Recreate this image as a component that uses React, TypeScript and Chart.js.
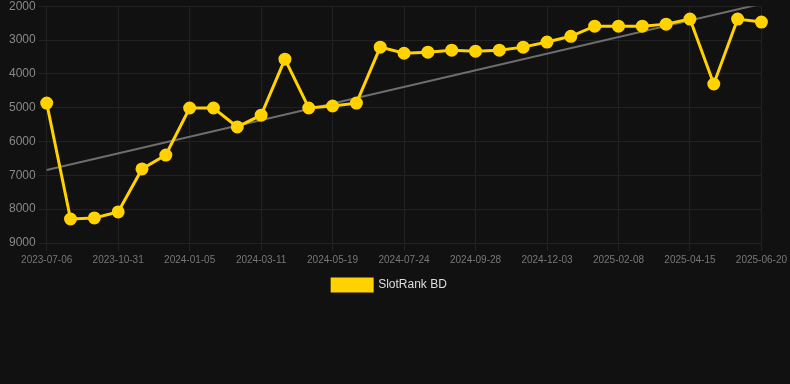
import React, { useEffect, useRef } from "react";
import { Chart, registerables } from "chart.js";

Chart.register(...registerables);

const dates: string[] = [
  "2023-07-06", "2023-08-14", "2023-09-22", "2023-10-31", "2023-11-22", "2023-12-14",
  "2024-01-05", "2024-01-27", "2024-02-18", "2024-03-11", "2024-04-03", "2024-04-26",
  "2024-05-19", "2024-06-10", "2024-07-02", "2024-07-24", "2024-08-15", "2024-09-06",
  "2024-09-28", "2024-10-20", "2024-11-11", "2024-12-03", "2024-12-25", "2025-01-17",
  "2025-02-08", "2025-03-02", "2025-03-24", "2025-04-15", "2025-05-07", "2025-05-29",
  "2025-06-20",
];

const rankValues: number[] = [
  4865, 8290, 8260, 8080, 6810, 6400,
  5010, 5010, 5570, 5220, 3565, 5010,
  4950, 4865, 3210, 3390, 3360, 3300,
  3330, 3300, 3210, 3060, 2890, 2590,
  2590, 2590, 2530, 2380, 4300, 2380,
  2470,
];

// trend line endpoints (first and last category)
const trendStart = 6840;
const trendEnd = 1930;

const yTicks: number[] = [2000, 3000, 4000, 5000, 6000, 7000, 8000, 9000];

export default function App() {
  const ref = useRef<HTMLCanvasElement | null>(null);

  useEffect(() => {
    document.body.style.background = "#111111";
    document.body.style.margin = "0";
    if (!ref.current) return;
    const trend = dates.map((_, i) =>
      i === 0 ? trendStart : i === dates.length - 1 ? trendEnd : null
    );
    const font = "'Liberation Sans', Arial, Helvetica, sans-serif";
    const chart = new Chart(ref.current, {
      type: "line",
      data: {
        labels: dates,
        datasets: [
          {
            label: "SlotRank BD",
            data: rankValues,
            borderColor: "#FFD200",
            backgroundColor: "#FFD200",
            borderWidth: 3,
            pointRadius: 5,
            pointHoverRadius: 5,
            pointBackgroundColor: "#FFD200",
            pointBorderColor: "#FFD200",
            tension: 0,
          },
          {
            label: "trend",
            data: trend,
            borderColor: "#6e6e6e",
            backgroundColor: "#6e6e6e",
            borderWidth: 2,
            pointRadius: 0,
            spanGaps: true,
            tension: 0,
          },
        ],
      },
      options: {
        animation: false,
        responsive: false,
        maintainAspectRatio: false,
        layout: { padding: { left: 6, top: 2, right: 17 } },
        plugins: {
          legend: {
            position: "bottom",
            labels: {
              color: "#dddddd",
              font: { size: 12, family: font },
              boxWidth: 40,
              boxHeight: 12,
              filter: (item) => item.text !== "trend",
            },
          },
          tooltip: { enabled: false },
        },
        scales: {
          x: {
            type: "category",
            offset: false,
            grid: {
              color: (ctx) => (ctx.index % 3 === 0 ? "#222222" : "rgba(0,0,0,0)"),
            },
            border: { color: "#222222" },
            ticks: {
              autoSkip: false,
              maxRotation: 0,
              color: "#777777",
              font: { size: 10, family: font },
              callback: (_v, i) => (i % 3 === 0 ? dates[i] : ""),
            },
          },
          y: {
            reverse: true,
            min: yTicks[0],
            max: yTicks[yTicks.length - 1],
            afterBuildTicks: (axis) => {
              axis.ticks = yTicks.map((v) => ({ value: v }));
            },
            grid: { color: "#222222" },
            border: { color: "#222222" },
            ticks: {
              color: "#888888",
              font: { size: 12, family: font },
              callback: (v) => String(v),
            },
          },
        },
      },
    });
    return () => chart.destroy();
  }, []);

  return (
    <div style={{ position: "absolute", left: 0, top: 0, width: 790, height: 384, background: "#111111", overflow: "hidden" }}>
      <canvas
        ref={ref}
        width={790}
        height={305}
        style={{ position: "absolute", left: 0, top: -4, width: 790, height: 305, display: "block" }}
      />
    </div>
  );
}
